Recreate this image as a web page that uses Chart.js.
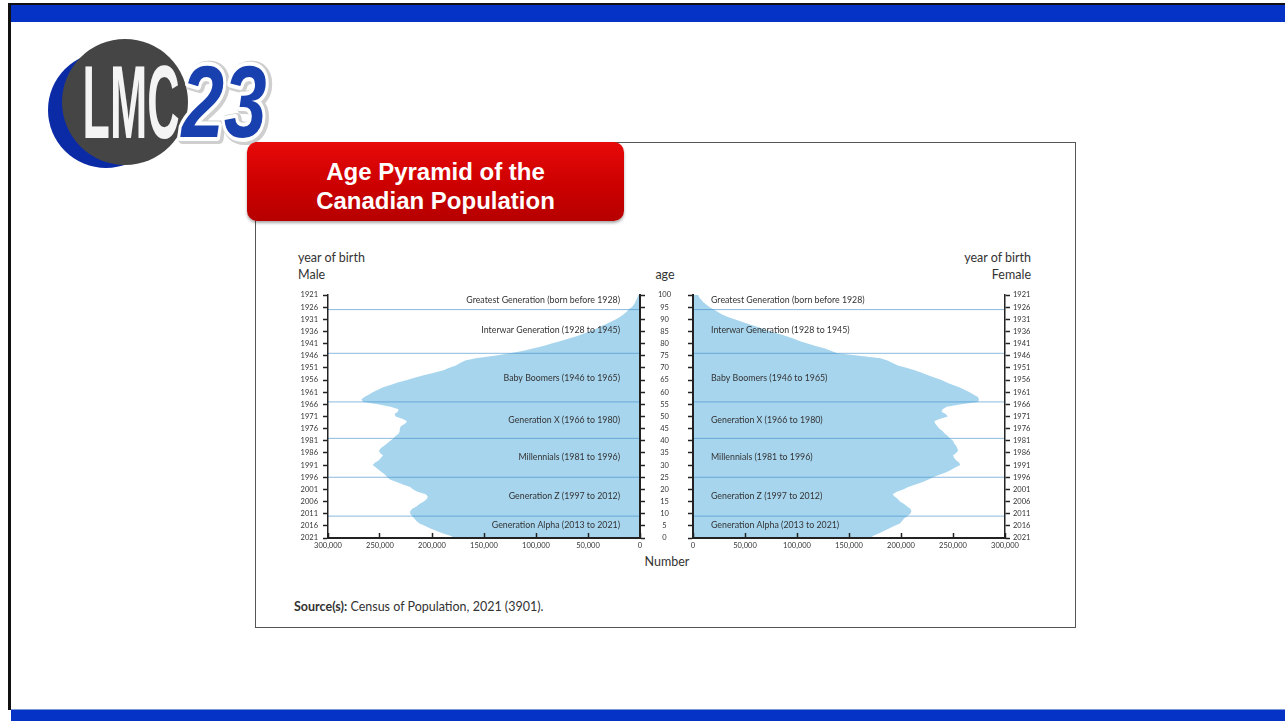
<!DOCTYPE html>
<html lang="en">
<head>
<meta charset="UTF-8" />
<title>Age Pyramid of the Canadian Population</title>
<script src="https://cdn.jsdelivr.net/npm/chart.js"></script>
<style>
  * { box-sizing: border-box; }
  body {
    margin: 0;
    width: 1285px;
    height: 721px;
    position: relative;
    overflow: hidden;
    background: #fff;
    font-family: Lato, 'Open Sans', sans-serif;
    color: #333;
  }
  .topline { position: absolute; left: 8px; top: 3px; right: 0; height: 2px; background: #111; }
  .topbar { position: absolute; left: 11px; top: 5px; right: 0; height: 17px; background: #0533c6; }
  .leftline { position: absolute; left: 8px; top: 3px; width: 3px; height: 707px; background: #111; }
  .bottombar { position: absolute; left: 11px; top: 709px; right: 0; height: 12px; background: #0533c6; border-top: 1px solid #7a98d8; }

  .frame { position: absolute; left: 255px; top: 142px; width: 821px; height: 486px; border: 1px solid #555; }
  .title {
    position: absolute; left: 247px; top: 142px; width: 377px; height: 79px;
    border-radius: 10px;
    background: linear-gradient(#e80a0a, #cc0000 55%, #b60000);
    box-shadow: 0 2px 3px rgba(0,0,0,0.35);
    color: #fff;
    font: bold 24px 'Liberation Sans', Arial, sans-serif;
    text-align: center;
    line-height: 29px;
    padding-top: 15px;
  }
  .lbl { position: absolute; font-size: 12.5px; line-height: 14px; white-space: nowrap; }
  canvas { position: absolute; }
</style>
</head>
<body>
  <div class="topline"></div>
  <div class="topbar"></div>
  <div class="leftline"></div>
  <div class="bottombar"></div>

  <!-- logo -->
  <svg width="290" height="190" style="position:absolute;left:0;top:0">
    <circle cx="106" cy="110" r="58" fill="#0b2ba6"/>
    <circle cx="125" cy="102" r="63" fill="#454545"/>
    <text transform="translate(131,138) scale(0.43,1)" text-anchor="middle"
          font-family="Liberation Sans, Arial" font-weight="bold" font-size="104" fill="#f4f4f4">LMC</text>
    <text transform="translate(226,138) scale(0.75,1)" text-anchor="middle"
          font-family="Liberation Sans, Arial" font-weight="bold" font-style="italic" font-size="102"
          fill="#cfcfcf" stroke="#cfcfcf" stroke-width="12" stroke-linejoin="round">23</text>
    <text transform="translate(224,137) scale(0.75,1)" text-anchor="middle"
          font-family="Liberation Sans, Arial" font-weight="bold" font-style="italic" font-size="102"
          fill="#fff" stroke="#fff" stroke-width="8" stroke-linejoin="round">23</text>
    <text transform="translate(224,137) scale(0.75,1)" text-anchor="middle"
          font-family="Liberation Sans, Arial" font-weight="bold" font-style="italic" font-size="102"
          fill="#1840ae">23</text>
  </svg>

  <div class="frame"></div>
  <div class="title">Age Pyramid of the<br>Canadian Population</div>

  <div class="lbl" style="left:298px;top:251px">year of birth</div>
  <div class="lbl" style="left:298px;top:268px">Male</div>
  <div class="lbl" style="left:640px;top:268px;width:50px;text-align:center">age</div>
  <div class="lbl" style="right:254px;top:251px;text-align:right">year of birth</div>
  <div class="lbl" style="right:254px;top:268px;text-align:right">Female</div>
  <div class="lbl" style="left:637px;top:555px;width:60px;text-align:center">Number</div>
  <div class="lbl" style="left:294px;top:600px;font-size:12.5px"><b>Source(s):</b> Census of Population, 2021 (3901).</div>

  <canvas id="maleChart" width="404" height="270" style="left:288px;top:285px"></canvas>
  <canvas id="femaleChart" width="365" height="270" style="left:680px;top:285px"></canvas>

  <script>
    // age 0 .. 100 (single years)
    const ages = Array.from({ length: 101 }, (_, i) => i);

    const male = [
      178000, 183000, 190000, 196000, 202000, 207000, 212000, 215000, 217000, 219000,
      221000, 221000, 219000, 215000, 212000, 208000, 205000, 204000, 206000, 214000,
      218000, 221000, 228000, 234000, 240000, 243000, 245000, 248000, 251000, 254000,
      257000, 255000, 251000, 249000, 247000, 250000, 251000, 249000, 246000, 243000,
      240000, 237000, 235000, 232000, 231000, 231000, 230000, 226000, 224000, 228000,
      235000, 236000, 233000, 232000, 240000, 252000, 266000, 268000, 265000, 261000,
      257000, 252000, 247000, 240000, 233000, 224000, 216000, 208000, 198000, 189000,
      184000, 177000, 173000, 168000, 158000, 140000, 125000, 113000, 103000, 93000,
      85000, 77000, 69000, 61000, 55000, 49000, 43000, 38000, 33000, 28000,
      23000, 19000, 16000, 13000, 11000, 8000, 6000, 4500, 3500, 2500, 1500
    ];

    const female = [
      170000, 174000, 179000, 184000, 189000, 194000, 199000, 201000, 203000, 206000,
      209000, 210000, 209000, 206000, 203000, 199000, 197000, 194000, 192000, 196000,
      202000, 207000, 214000, 221000, 226000, 231000, 237000, 243000, 248000, 252000,
      257000, 256000, 253000, 251000, 250000, 253000, 255000, 254000, 253000, 251000,
      250000, 247000, 245000, 242000, 240000, 237000, 235000, 233000, 232000, 237000,
      245000, 243000, 239000, 240000, 244000, 258000, 274000, 275000, 274000, 270000,
      266000, 261000, 256000, 250000, 244000, 239000, 232000, 226000, 220000, 213000,
      206000, 197000, 192000, 187000, 180000, 160000, 139000, 133000, 127000, 118000,
      110000, 103000, 97000, 90000, 83000, 75000, 68000, 61000, 54000, 47000,
      40000, 33000, 28000, 24000, 20000, 16000, 13000, 10000, 8000, 6000, 5000
    ];

    // generations: label text, age where the label sits, age of the lower boundary line
    const genNames = [
      'Greatest Generation (born before 1928)',
      'Interwar Generation (1928 to 1945)',
      'Baby Boomers (1946 to 1965)',
      'Generation X (1966 to 1980)',
      'Millennials (1981 to 1996)',
      'Generation Z (1997 to 2012)',
      'Generation Alpha (2013 to 2021)'
    ];
    const genLabelAges = [97.9, 85.5, 65.8, 48.5, 33.2, 17.2, 5.2];
    const genBoundaries = [94, 76, 56, 41, 25, 9];

    const censusYear = 2021;
    const maxCount = 300000;

    const fillColor = '#a7d5ee';
    const lineColor = 'rgba(60, 140, 200, 0.6)';
    const axisColor = '#222';
    const textColor = '#333';
    const tickFont = { family: 'Lato', size: 7.5 };

    const genLabelPlugin = {
      id: 'genLabels',
      afterDatasetsDraw(chart, args, opts) {
        const { ctx, chartArea, scales } = chart;
        ctx.save();
        ctx.font = '8.8px Lato';
        ctx.fillStyle = textColor;
        ctx.textBaseline = 'middle';
        ctx.textAlign = opts.align;
        const x = opts.align === 'right' ? chartArea.right - 20 : chartArea.left + 18;
        genNames.forEach((name, i) => {
          ctx.fillText(name, x, scales.y.getPixelForValue(genLabelAges[i]));
        });
        ctx.restore();
      }
    };

    function buildDatasets(values) {
      const sets = [{
        data: ages.map((a, i) => ({ x: values[i], y: a })),
        borderWidth: 0,
        pointRadius: 0,
        fill: 'origin',
        backgroundColor: fillColor,
        order: 2
      }];
      genBoundaries.forEach(b => {
        sets.push({
          data: [{ x: 0, y: b }, { x: maxCount, y: b }],
          borderColor: lineColor,
          borderWidth: 1,
          pointRadius: 0,
          fill: false,
          order: 1
        });
      });
      return sets;
    }

    // keep the label padding from pushing the plot area down
    function fixVertical(s, width) {
      s.width = width;
      s.paddingTop = 5;
      s.paddingBottom = 5;
    }

    function buildOptions(side) {
      const isMale = side === 'male';
      return {
        responsive: false,
        animation: false,
        indexAxis: 'y',
        locale: 'en-US',
        layout: { padding: { top: 10, bottom: 2, left: 0, right: 0 } },
        plugins: {
          legend: { display: false },
          tooltip: { enabled: false },
          genLabels: { align: isMale ? 'right' : 'left' }
        },
        scales: {
          x: {
            type: 'linear',
            position: 'bottom',
            reverse: isMale,
            min: 0,
            max: maxCount,
            ticks: {
              stepSize: 50000,
              autoSkip: false,
              maxRotation: 0,
              padding: 8,
              color: textColor,
              font: tickFont,
              callback: v => v.toLocaleString('en-US')
            },
            grid: { drawOnChartArea: false, tickLength: -5, tickWidth: 1.5, tickColor: axisColor, z: 1 },
            border: { color: axisColor, width: 2, z: 1 },
            afterFit: s => { s.height = 15; }
          },
          y: {
            type: 'linear',
            position: isMale ? 'right' : 'left',
            min: 0,
            max: 100,
            ticks: {
              display: isMale,
              stepSize: 5,
              autoSkip: false,
              padding: 13,
              crossAlign: 'center',
              color: textColor,
              font: tickFont
            },
            grid: { drawOnChartArea: false, tickLength: 5, tickWidth: 1.5, tickColor: axisColor, z: 1 },
            border: { color: axisColor, width: 2, z: 1 },
            afterFit: s => fixVertical(s, isMale ? 52 : 13)
          },
          yob: {
            type: 'linear',
            position: isMale ? 'left' : 'right',
            reverse: true,
            min: censusYear - 100,
            max: censusYear,
            ticks: {
              stepSize: 5,
              autoSkip: false,
              padding: isMale ? 5 : 3,
              color: textColor,
              font: tickFont,
              callback: v => String(v)
            },
            grid: { drawOnChartArea: false, tickLength: 5, tickWidth: 1.5, tickColor: axisColor, z: 1 },
            border: { color: axisColor, width: 1.5, z: 1 },
            afterFit: s => fixVertical(s, 40)
          }
        }
      };
    }

    new Chart(document.getElementById('maleChart'), {
      type: 'line',
      data: { datasets: buildDatasets(male) },
      options: buildOptions('male'),
      plugins: [genLabelPlugin]
    });

    new Chart(document.getElementById('femaleChart'), {
      type: 'line',
      data: { datasets: buildDatasets(female) },
      options: buildOptions('female'),
      plugins: [genLabelPlugin]
    });
  </script>
</body>
</html>
